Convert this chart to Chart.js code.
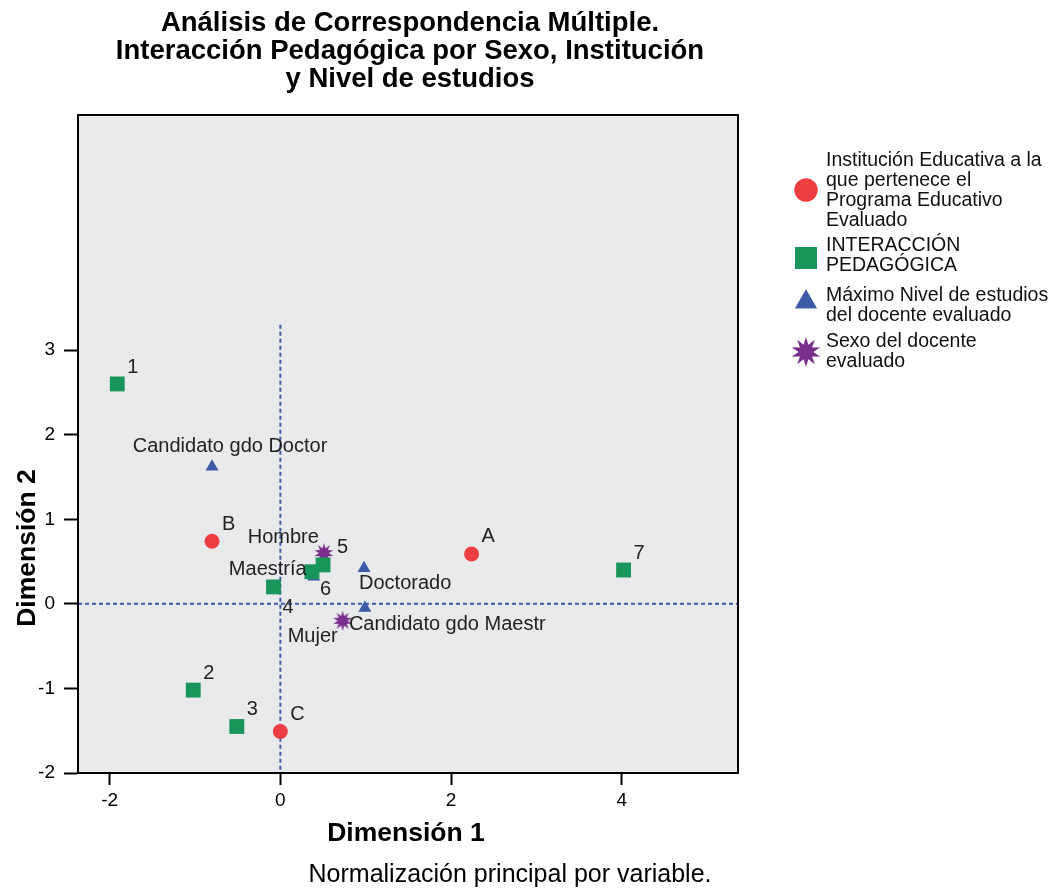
<!DOCTYPE html>
<html>
<head>
<meta charset="utf-8">
<script src="https://cdn.jsdelivr.net/npm/chart.js@4.4.1/dist/chart.umd.min.js"></script>
<style>
  html, body { margin: 0; background: #fff; }
  #wrap { width: 1057px; height: 888px; }
</style>
</head>
<body>
<div id="wrap"><canvas id="chart" width="1057" height="888"></canvas></div>
<script>
// Valores (dimensión 1, dimensión 2)
const instLabels = ['A', 'B', 'C'];
const instX = [2.24, -0.80, 0.00];
const instY = [0.59, 0.74, -1.51];

const interLabels = ['1', '2', '3', '4', '5', '6', '7'];
const interX = [-1.91, -1.02, -0.51, -0.08, 0.50, 0.37, 4.02];
const interY = [2.60, -1.02, -1.45, 0.20, 0.46, 0.38, 0.40];

const nivelLabels = ['Candidato gdo Doctor', 'Maestría', 'Doctorado', 'Candidato gdo Maestr'];
const nivelX = [-0.80, 0.39, 0.98, 0.99];
const nivelY = [1.62, 0.32, 0.42, -0.05];

const sexoLabels = ['Hombre', 'Mujer'];
const sexoX = [0.51, 0.73];
const sexoY = [0.60, -0.20];

const seriesNames = [
  ['Institución Educativa a la', 'que pertenece el', 'Programa Educativo', 'Evaluado'],
  ['INTERACCIÓN', 'PEDAGÓGICA'],
  ['Máximo Nivel de estudios', 'del docente evaluado'],
  ['Sexo del docente', 'evaluado']
];

const xTicks = [-2, 0, 2, 4];
const yTicks = [-2, -1, 0, 1, 2, 3];
const titleLines = ['Análisis de Correspondencia Múltiple.', 'Interacción Pedagógica por Sexo, Institución', 'y Nivel de estudios'];
const xTitle = 'Dimensión 1';
const yTitle = 'Dimensión 2';
const footnote = 'Normalización principal por variable.';

// where each point label sits, relative to its marker: [dx, dy, align]
const instPlace = [[10, -17, 'left'], [10, -17, 'left'], [10, -17, 'left']];
const interPlace = [[10, -16, 'left'], [10, -17, 'left'], [10, -17, 'left'], [9, 21, 'left'],
  [14, -17, 'left'], [8, 18, 'left'], [10, -17, 'left']];
const nivelPlace = [[18, -20, 'center'], [-7, -7, 'right'], [-5, 15, 'left'], [-16, 16, 'left']];
const sexoPlace = [[-5, -16, 'right'], [-5, 16, 'right']];

const RED = '#ef3e42', GREEN = '#17955a', BLUE = '#3d5aa8', PURPLE = '#7a2e8c';
const FONT = '"Liberation Sans", Arial, sans-serif';

function starImage(r, color) {
  const c = document.createElement('canvas');
  c.width = c.height = Math.ceil(r * 2 + 2);
  const g = c.getContext('2d');
  const cx = c.width / 2, cy = c.height / 2, n = 10;
  g.beginPath();
  for (let i = 0; i < n * 2; i++) {
    const rr = i % 2 === 0 ? r : r * 0.5;
    const a = -Math.PI / 2 + i * Math.PI / n;
    const px = cx + Math.cos(a) * rr, py = cy + Math.sin(a) * rr;
    i === 0 ? g.moveTo(px, py) : g.lineTo(px, py);
  }
  g.closePath();
  g.fillStyle = color;
  g.fill();
  return c;
}
const starSmall = starImage(10, PURPLE);
const starBig = starImage(15, PURPLE);

function pts(xs, ys) { return xs.map((x, i) => ({ x: x, y: ys[i] })); }

const datasets = [
  { label: seriesNames[0].join(' '), data: pts(instX, instY), pointLabels: instLabels, place: instPlace,
    pointStyle: 'circle', pointRadius: 7.5, backgroundColor: RED, borderColor: RED, borderWidth: 0 },
  { label: seriesNames[1].join(' '), data: pts(interX, interY), pointLabels: interLabels, place: interPlace,
    pointStyle: 'rect', pointRadius: 10.5, backgroundColor: GREEN, borderColor: GREEN, borderWidth: 0 },
  { label: seriesNames[2].join(' '), data: pts(nivelX, nivelY), pointLabels: nivelLabels, place: nivelPlace,
    pointStyle: 'triangle', pointRadius: 7.5, backgroundColor: BLUE, borderColor: BLUE, borderWidth: 0 },
  { label: seriesNames[3].join(' '), data: pts(sexoX, sexoY), pointLabels: sexoLabels, place: sexoPlace,
    pointStyle: starSmall, pointRadius: 10, backgroundColor: PURPLE, borderColor: PURPLE, borderWidth: 0 }
];

const decor = {
  id: 'decor',
  beforeDraw(chart) {
    const { ctx, chartArea: a } = chart;
    ctx.save();
    ctx.fillStyle = '#e9eaec';
    ctx.fillRect(a.left, a.top, a.right - a.left, a.bottom - a.top);
    ctx.restore();
  },
  beforeDatasetsDraw(chart) {
    const { ctx, chartArea: a, scales } = chart;
    ctx.save();
    // reference lines at 0
    ctx.strokeStyle = BLUE;
    ctx.lineWidth = 2;
    ctx.setLineDash([4, 3]);
    const x0 = scales.x.getPixelForValue(0), y0 = scales.y.getPixelForValue(0);
    ctx.beginPath();
    ctx.moveTo(x0, scales.y.getPixelForValue(3.3));
    ctx.lineTo(x0, a.bottom);
    ctx.moveTo(a.left, y0);
    ctx.lineTo(a.right, y0);
    ctx.stroke();
    ctx.restore();
  },
  afterDatasetsDraw(chart) {
    const { ctx } = chart;
    ctx.save();
    ctx.font = '20px ' + FONT;
    ctx.fillStyle = '#222';
    ctx.textBaseline = 'middle';
    chart.data.datasets.forEach((ds, di) => {
      chart.getDatasetMeta(di).data.forEach((el, i) => {
        const p = ds.place[i];
        ctx.textAlign = p[2];
        ctx.fillText(ds.pointLabels[i], el.x + p[0], el.y + p[1]);
      });
    });
    ctx.restore();
  },
  afterDraw(chart) {
    const { ctx, chartArea: a } = chart;
    ctx.save();
    // frame
    ctx.strokeStyle = '#000';
    ctx.lineWidth = 2;
    ctx.strokeRect(a.left, a.top, a.right - a.left, a.bottom - a.top);

    // title
    ctx.fillStyle = '#000';
    ctx.textAlign = 'center';
    ctx.textBaseline = 'middle';
    ctx.font = 'bold 27.5px ' + FONT;
    titleLines.forEach((t, i) => ctx.fillText(t, 410, 23 + i * 28));

    // axis titles
    ctx.font = 'bold 26.5px ' + FONT;
    ctx.fillText(xTitle, 406, 834);
    ctx.save();
    ctx.translate(28, 548);
    ctx.rotate(-Math.PI / 2);
    ctx.fillText(yTitle, 0, 0);
    ctx.restore();

    ctx.font = '25px ' + FONT;
    ctx.fillText(footnote, 510, 875);

    // legend
    const lx = 806, tx = 826;
    const items = [
      { y: 190, lines: 161, style: 'circle', r: 11.5, color: RED },
      { y: 258, lines: 246, style: 'rect', r: 15.5, color: GREEN },
      { y: 302, lines: 296, style: 'triangle', r: 12.5, color: BLUE },
      { y: 352, lines: 342, style: starBig, r: 15, color: PURPLE }
    ];
    ctx.font = '19.5px ' + FONT;
    ctx.textAlign = 'left';
    items.forEach((it, k) => {
      ctx.fillStyle = it.color;
      if (typeof it.style === 'string') {
        Chart.helpers.drawPoint(ctx, { pointStyle: it.style, radius: it.r, rotation: 0, borderWidth: 0 }, lx, it.y);
        ctx.fill();
      } else {
        ctx.drawImage(it.style, lx - it.style.width / 2, it.y - it.style.height / 2);
      }
      ctx.fillStyle = '#111';
      seriesNames[k].forEach((t, j) => ctx.fillText(t, tx, it.lines + j * 20));
    });
    ctx.restore();
  }
};

new Chart(document.getElementById('chart'), {
  type: 'scatter',
  data: { datasets: datasets },
  plugins: [decor],
  options: {
    responsive: false,
    animation: false,
    layout: { padding: { top: 115, right: 319, left: 0, bottom: 0 } },
    plugins: { legend: { display: false }, tooltip: { enabled: false } },
    scales: {
      x: {
        type: 'linear', min: -2.37, max: 5.36,
        afterBuildTicks: s => { s.ticks = xTicks.map(v => ({ value: v })); },
        afterFit: s => { s.height = 115; },
        ticks: { color: '#000', font: { size: 19, family: FONT }, padding: 4, callback: v => String(v) },
        grid: { drawOnChartArea: false, tickLength: 12, tickColor: '#000', tickWidth: 2 },
        border: { display: true, color: '#000', width: 2 }
      },
      y: {
        type: 'linear', min: -2, max: 5.78,
        afterBuildTicks: s => { s.ticks = yTicks.map(v => ({ value: v })); },
        afterFit: s => { s.width = 78; },
        ticks: { color: '#000', font: { size: 19, family: FONT }, padding: 9, callback: v => String(v) },
        grid: { drawOnChartArea: false, tickLength: 14, tickColor: '#000', tickWidth: 2 },
        border: { display: true, color: '#000', width: 2 }
      }
    }
  }
});
</script>
</body>
</html>
